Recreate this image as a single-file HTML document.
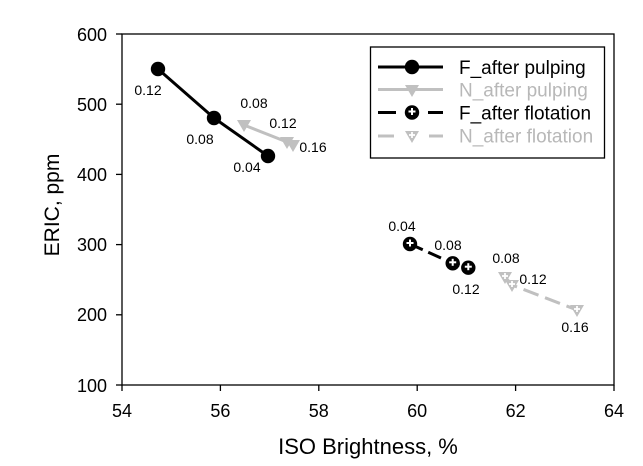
<!DOCTYPE html>
<html>
<head>
<meta charset="utf-8">
<style>
  html, body { margin: 0; padding: 0; background: #ffffff; }
  svg { display: block; }
  text { font-family: "Liberation Sans", Arial, sans-serif; }
</style>
</head>
<body>
<svg width="643" height="466" viewBox="0 0 643 466" xmlns="http://www.w3.org/2000/svg">
  <rect x="0" y="0" width="643" height="466" fill="#ffffff"/>

  <!-- plot frame -->
  <rect x="122" y="34" width="492" height="351" fill="none" stroke="#000" stroke-width="1.3"/>

  <!-- y ticks -->
  <g stroke="#000" stroke-width="1.3">
    <line x1="116" y1="34" x2="122" y2="34"/>
    <line x1="116" y1="104.2" x2="122" y2="104.2"/>
    <line x1="116" y1="174.4" x2="122" y2="174.4"/>
    <line x1="116" y1="244.6" x2="122" y2="244.6"/>
    <line x1="116" y1="314.8" x2="122" y2="314.8"/>
    <line x1="116" y1="385" x2="122" y2="385"/>
    <!-- x ticks -->
    <line x1="122" y1="385" x2="122" y2="391"/>
    <line x1="220.4" y1="385" x2="220.4" y2="391"/>
    <line x1="318.8" y1="385" x2="318.8" y2="391"/>
    <line x1="417.2" y1="385" x2="417.2" y2="391"/>
    <line x1="515.6" y1="385" x2="515.6" y2="391"/>
    <line x1="614" y1="385" x2="614" y2="391"/>
  </g>

  <!-- y tick labels -->
  <g font-size="18" fill="#000" text-anchor="end">
    <text x="107" y="41">600</text>
    <text x="107" y="111">500</text>
    <text x="107" y="181">400</text>
    <text x="107" y="251">300</text>
    <text x="107" y="321">200</text>
    <text x="107" y="392">100</text>
  </g>
  <!-- x tick labels -->
  <g font-size="18" fill="#000" text-anchor="middle">
    <text x="122" y="417">54</text>
    <text x="220.4" y="417">56</text>
    <text x="318.8" y="417">58</text>
    <text x="417.2" y="417">60</text>
    <text x="515.6" y="417">62</text>
    <text x="614" y="417">64</text>
  </g>

  <!-- axis titles -->
  <text x="368" y="454" font-size="22" text-anchor="middle" fill="#000">ISO Brightness, %</text>
  <text x="0" y="0" font-size="21" text-anchor="middle" fill="#000" transform="translate(59,205) rotate(-90)">ERIC, ppm</text>

  <!-- N_after pulping (gray solid, triangles) -->
  <polyline points="244,125 287,142 293,145" fill="none" stroke="#c0c0c0" stroke-width="3"/>
  <g fill="#c0c0c0">
    <path d="M237,120 L251,120 L244,132 Z"/>
    <path d="M280,137 L294,137 L287,149 Z"/>
    <path d="M286,140 L300,140 L293,152 Z"/>
  </g>

  <!-- F_after pulping (black solid, circles) -->
  <polyline points="158,69 214,118 268,156" fill="none" stroke="#000" stroke-width="3"/>
  <g fill="#000">
    <circle cx="158" cy="69" r="7.2"/>
    <circle cx="214" cy="118" r="7.2"/>
    <circle cx="268" cy="156" r="7.2"/>
  </g>

  <!-- F_after flotation (black dashed, circle with plus) -->
  <polyline points="410,244 452.7,263.3 468.3,267.7" fill="none" stroke="#000" stroke-width="3" stroke-dasharray="14 6"/>
  <g>
    <circle cx="410" cy="244" r="7.2" fill="#000"/>
    <circle cx="452.7" cy="263.3" r="7.2" fill="#000"/>
    <circle cx="468.3" cy="267.7" r="7.2" fill="#000"/>
  </g>
  <g stroke="#fff" stroke-width="2">
    <line x1="406.5" y1="243" x2="413.5" y2="243"/><line x1="410" y1="239.5" x2="410" y2="246.5"/>
    <line x1="449.2" y1="262.3" x2="456.2" y2="262.3"/><line x1="452.7" y1="258.8" x2="452.7" y2="265.8"/>
    <line x1="464.8" y1="266.7" x2="471.8" y2="266.7"/><line x1="468.3" y1="263.2" x2="468.3" y2="270.2"/>
  </g>

  <!-- N_after flotation (gray dashed, triangle with plus) -->
  <polyline points="505,277 512,285 577,310" fill="none" stroke="#c0c0c0" stroke-width="3" stroke-dasharray="16 7"/>
  <g fill="#c0c0c0">
    <path d="M498,272 L512,272 L505,284 Z"/>
    <path d="M505,280 L519,280 L512,292 Z"/>
    <path d="M570,305 L584,305 L577,317 Z"/>
  </g>
  <g stroke="#fff" stroke-width="1.8">
    <line x1="502" y1="276" x2="508" y2="276"/><line x1="505" y1="273" x2="505" y2="279"/>
    <line x1="509" y1="284" x2="515" y2="284"/><line x1="512" y1="281" x2="512" y2="287"/>
    <line x1="574" y1="309" x2="580" y2="309"/><line x1="577" y1="306" x2="577" y2="312"/>
  </g>

  <!-- data labels -->
  <g font-size="14" fill="#000" text-anchor="middle">
    <text x="148" y="95">0.12</text>
    <text x="200" y="144">0.08</text>
    <text x="247" y="172">0.04</text>
    <text x="254" y="108">0.08</text>
    <text x="283" y="128">0.12</text>
    <text x="313" y="152">0.16</text>
    <text x="402" y="231">0.04</text>
    <text x="448" y="250">0.08</text>
    <text x="466" y="294">0.12</text>
    <text x="506" y="263">0.08</text>
    <text x="533" y="284">0.12</text>
    <text x="575" y="332">0.16</text>
  </g>

  <!-- legend -->
  <rect x="370.5" y="47" width="234" height="111" fill="#fff" stroke="#000" stroke-width="1.3"/>
  <!-- row 1 -->
  <line x1="378" y1="67" x2="443" y2="67" stroke="#000" stroke-width="3"/>
  <circle cx="412" cy="67" r="7.2" fill="#000"/>
  <text x="459" y="74" font-size="19" fill="#000">F_after pulping</text>
  <!-- row 2 -->
  <line x1="378" y1="89.5" x2="443" y2="89.5" stroke="#c0c0c0" stroke-width="3"/>
  <path d="M405,85 L419,85 L412,97 Z" fill="#c0c0c0"/>
  <text x="459" y="96.5" font-size="19" fill="#b8b8b8">N_after pulping</text>
  <!-- row 3 -->
  <line x1="378" y1="112.5" x2="396" y2="112.5" stroke="#000" stroke-width="3"/>
  <line x1="428" y1="112.5" x2="443" y2="112.5" stroke="#000" stroke-width="3"/>
  <circle cx="412" cy="112.5" r="7.2" fill="#000"/>
  <g stroke="#fff" stroke-width="2">
    <line x1="408.5" y1="111.5" x2="415.5" y2="111.5"/><line x1="412" y1="108" x2="412" y2="115"/>
  </g>
  <text x="459" y="119.5" font-size="19" fill="#000">F_after flotation</text>
  <!-- row 4 -->
  <line x1="378" y1="136" x2="394" y2="136" stroke="#c0c0c0" stroke-width="3"/>
  <line x1="429" y1="136" x2="443" y2="136" stroke="#c0c0c0" stroke-width="3"/>
  <path d="M405,131 L419,131 L412,143 Z" fill="#c0c0c0"/>
  <g stroke="#fff" stroke-width="1.8">
    <line x1="409" y1="135" x2="415" y2="135"/><line x1="412" y1="132" x2="412" y2="138"/>
  </g>
  <text x="459" y="142.5" font-size="19" fill="#b8b8b8">N_after flotation</text>
</svg>
</body>
</html>
